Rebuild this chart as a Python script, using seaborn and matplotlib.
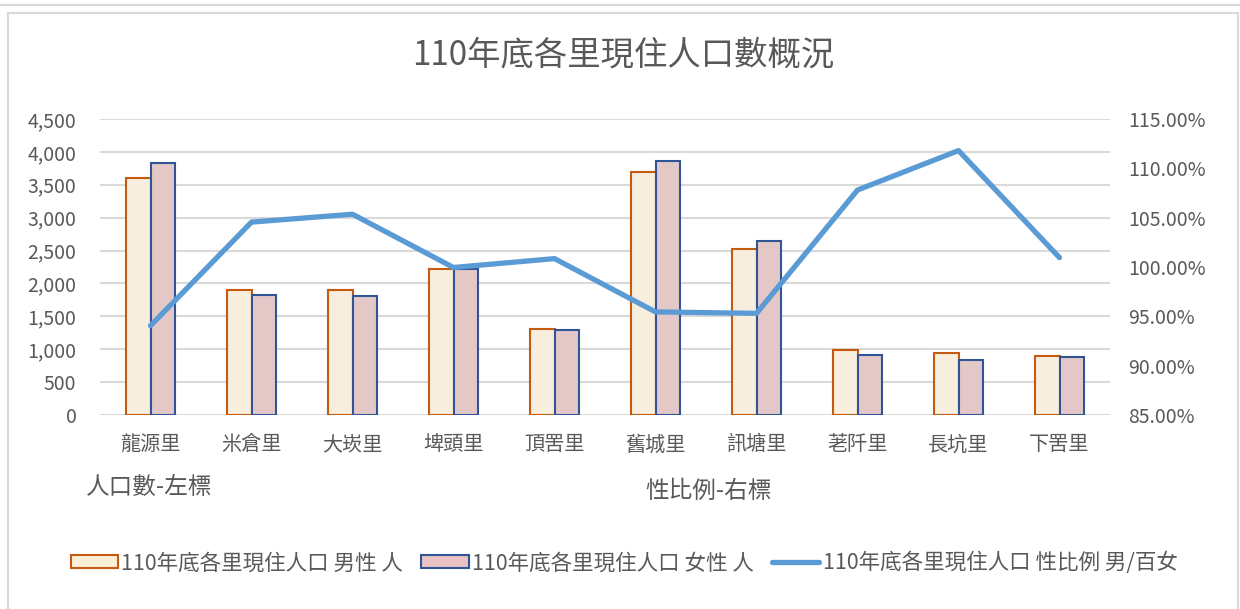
import numpy as np
import pandas as pd
import matplotlib
matplotlib.use("Agg")
from matplotlib import pyplot as plt
from matplotlib.patches import Patch, Rectangle
from matplotlib.lines import Line2D
from matplotlib.ticker import FuncFormatter, MultipleLocator
import seaborn as sns

# data
villages = ['龍源里', '米倉里', '大崁里', '埤頭里', '頂罟里',
            '舊城里', '訊塘里', '荖阡里', '長坑里', '下罟里']
male = [3600, 1900, 1900, 2220, 1300, 3690, 2525, 985, 940, 900]
female = [3830, 1820, 1810, 2215, 1290, 3860, 2645, 915, 840, 885]
sex_ratio = [94.05, 104.55, 105.35, 99.95, 100.85, 95.45, 95.3, 107.8, 111.8, 100.95]

title = '110年底各里現住人口數概況'
male_label = '110年底各里現住人口 男性 人'
female_label = '110年底各里現住人口 女性 人'
ratio_label = '110年底各里現住人口 性比例 男/百女'

text_col = '#595959'
grid_col = '#D9D9D9'
male_fill, male_edge = '#FCEFD8', '#C55A11'
female_fill, female_edge = '#E9C3C3', '#2F5597'
line_col = '#5B9BD5'

sns.set_style('white')
plt.rcParams['font.family'] = ['Noto Sans CJK TC', 'DejaVu Sans']

# long form table for seaborn
df = pd.DataFrame({
    'village': villages * 2,
    'count': male + female,
    'sex': ['男'] * len(villages) + ['女'] * len(villages),
})
ratio_df = pd.DataFrame({'village': villages, 'ratio': sex_ratio})

fig = plt.figure(figsize=(12.4, 6.09), dpi=100)
ax = fig.add_axes([100 / 1240, 1 - 415 / 609, 1010 / 1240, 296 / 609])

sns.barplot(data=df, x='village', y='count', hue='sex', order=villages,
            hue_order=['男', '女'], palette=[male_fill, female_fill],
            width=0.48, legend=False, ax=ax, zorder=2)
for cont, ec in zip(ax.containers, [male_edge, female_edge]):
    for bar in cont:
        bar.set_edgecolor(ec)
        bar.set_linewidth(1.5)

ax.set_ylim(0, 4500)
ax.set_xlim(-0.5, len(villages) - 0.5)
ax.yaxis.set_major_locator(MultipleLocator(500))
ax.yaxis.set_major_formatter(FuncFormatter(lambda v, p: f'{int(v):,}'))
ax.grid(axis='y', color=grid_col, linewidth=1.5, zorder=0)
ax.set_axisbelow(True)
for s in ax.spines.values():
    s.set_visible(False)
ax.set_xlabel('')
ax.set_ylabel('')
ax.tick_params(axis='y', length=0, pad=17, labelsize=14, labelcolor=text_col)
ax.tick_params(axis='x', length=0, pad=14, labelsize=14.5, labelcolor=text_col)

ax2 = ax.twinx()
sns.lineplot(data=ratio_df, x='village', y='ratio', sort=False, color=line_col,
             linewidth=3.8, ax=ax2)
ax2.set_ylim(85, 115)
ax2.yaxis.set_major_locator(MultipleLocator(5))
ax2.yaxis.set_major_formatter(FuncFormatter(lambda v, p: f'{v:.2f}%'))
for s in ax2.spines.values():
    s.set_visible(False)
ax2.set_ylabel('')
ax2.tick_params(axis='y', length=0, pad=13, labelsize=14, labelcolor=text_col)

fig.text(623 / 1240, 1 - 55 / 609, title, ha='center', va='center',
         fontsize=24, color=text_col)
fig.text(86 / 1240, 1 - 487 / 609, '人口數-左標', ha='left', va='center',
         fontsize=17, color=text_col)
fig.text(645 / 1240, 1 - 491 / 609, '性比例-右標', ha='left', va='center',
         fontsize=17, color=text_col)

handles = [
    Patch(facecolor=male_fill, edgecolor=male_edge, linewidth=1.5, label=male_label),
    Patch(facecolor=female_fill, edgecolor=female_edge, linewidth=1.5, label=female_label),
    Line2D([], [], color=line_col, linewidth=3.8, label=ratio_label),
]
fig.legend(handles=handles, loc='center', bbox_to_anchor=(624 / 1240, 1 - 563 / 609),
           ncol=3, frameon=False, fontsize=15.5, labelcolor=text_col,
           handlelength=2.2, handleheight=0.55, handletextpad=0.15, columnspacing=0.85)

# chart frame
fig.patches.append(Rectangle((8 / 1240, -0.01), 1230 / 1240, 1 - 13 / 609 + 0.01,
                             transform=fig.transFigure, fill=False,
                             edgecolor=grid_col, linewidth=1.5))
fig.lines.append(Line2D([0, 1], [1 - 5 / 609] * 2, transform=fig.transFigure,
                        color=grid_col, linewidth=1.5))

fig.savefig('out.png', dpi=100)
